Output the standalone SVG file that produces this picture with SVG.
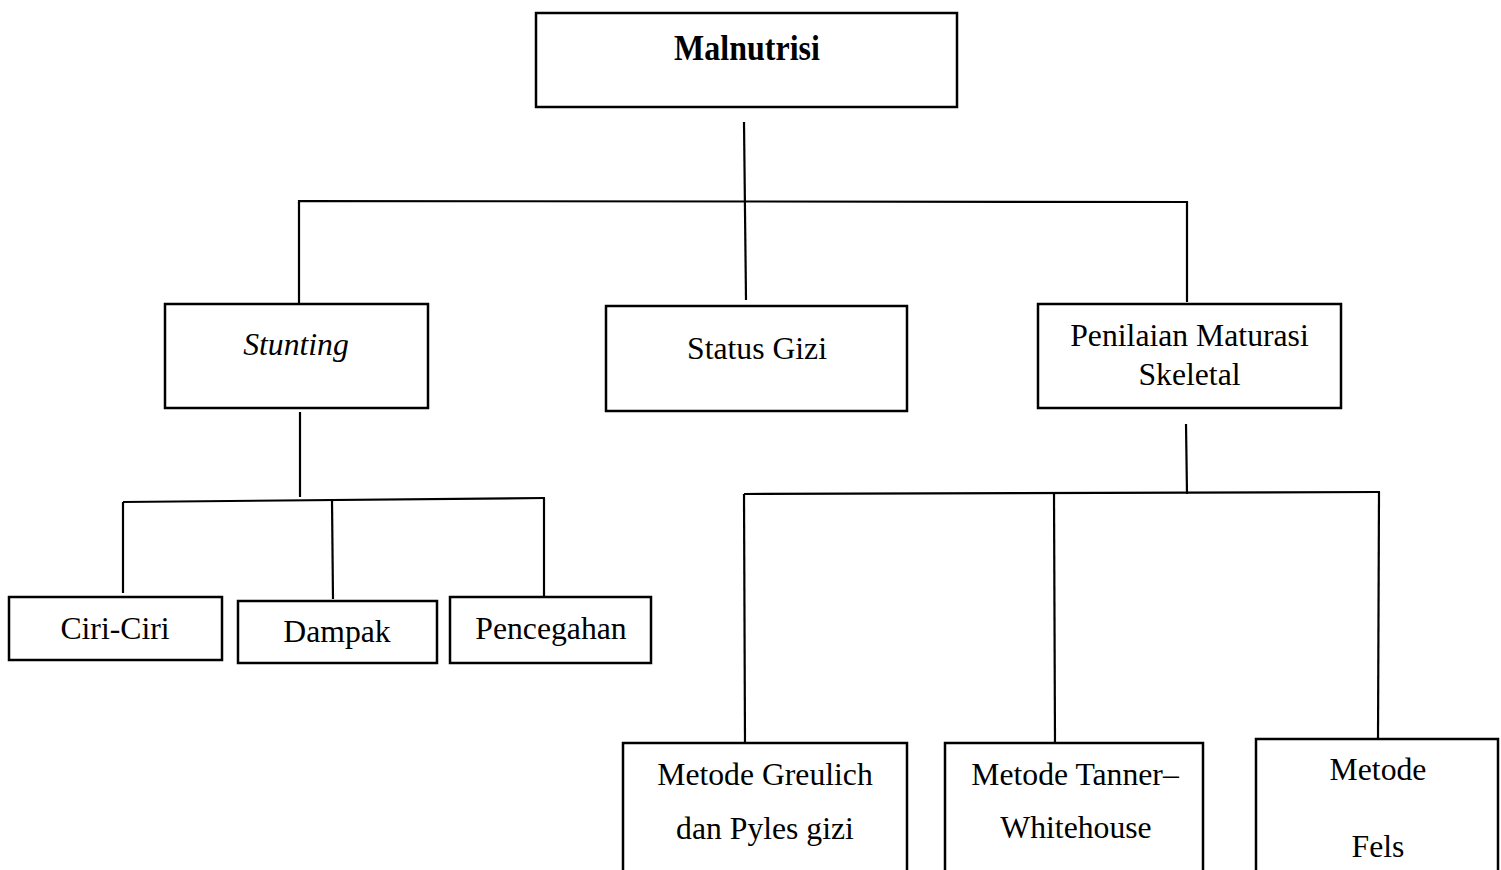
<svg xmlns="http://www.w3.org/2000/svg" width="1501" height="870" viewBox="0 0 1501 870">
<style>
.box{fill:#fff;stroke:#000;stroke-width:2.5}
.ln{fill:none;stroke:#000;stroke-width:2.2}
text{font-family:"Liberation Serif","Times New Roman",serif;font-size:31.7px;fill:#000;text-anchor:middle}
.b{font-weight:bold;font-size:32px}
.i{font-style:italic}
</style>
<rect width="1501" height="870" fill="#fff"/>
<g id="connectors">
<line class="ln" x1="744" y1="122" x2="746" y2="300"/>
<polyline class="ln" points="299,304 299,201 1187,202 1187,302"/>
<line class="ln" x1="300" y1="412" x2="300" y2="497"/>
<line class="ln" x1="123" y1="502" x2="545" y2="498"/>
<line class="ln" x1="123" y1="502" x2="123" y2="593"/>
<line class="ln" x1="332" y1="500" x2="333" y2="599"/>
<line class="ln" x1="544" y1="498" x2="544" y2="597"/>
<line class="ln" x1="1186" y1="424" x2="1187" y2="494"/>
<line class="ln" x1="744" y1="494" x2="1380" y2="492"/>
<line class="ln" x1="744" y1="494" x2="745" y2="743"/>
<line class="ln" x1="1054" y1="493" x2="1055" y2="743"/>
<line class="ln" x1="1379" y1="492" x2="1378" y2="739"/>
</g>
<g id="malnutrisi">
<rect class="box" x="536" y="13" width="421" height="94"/>
<text class="b" transform="translate(747,60) scale(1,1.12)">Malnutrisi</text>
</g>
<g id="stunting">
<rect class="box" x="165" y="304" width="263" height="104"/>
<text class="i" x="296" y="355">Stunting</text>
</g>
<g id="status-gizi">
<rect class="box" x="606" y="306" width="301" height="105"/>
<text x="757" y="359">Status Gizi</text>
</g>
<g id="penilaian">
<rect class="box" x="1038" y="304" width="303" height="104"/>
<text x="1189.5" y="346">Penilaian Maturasi</text>
<text x="1189.5" y="385">Skeletal</text>
</g>
<g id="ciri-ciri">
<rect class="box" x="9" y="597" width="213" height="63"/>
<text x="115" y="639">Ciri-Ciri</text>
</g>
<g id="dampak">
<rect class="box" x="238" y="601" width="199" height="62"/>
<text x="337" y="642">Dampak</text>
</g>
<g id="pencegahan">
<rect class="box" x="450" y="597" width="201" height="66"/>
<text x="551" y="639">Pencegahan</text>
</g>
<g id="greulich">
<rect class="box" x="623" y="743" width="284" height="140"/>
<text x="765" y="785">Metode Greulich</text>
<text x="765" y="839">dan Pyles gizi</text>
</g>
<g id="tanner">
<rect class="box" x="945" y="743" width="258" height="140"/>
<text x="1075" y="785">Metode Tanner–</text>
<text x="1076" y="838">Whitehouse</text>
</g>
<g id="fels">
<rect class="box" x="1256" y="739" width="242" height="144"/>
<text x="1378" y="780">Metode</text>
<text x="1378" y="857">Fels</text>
</g>
</svg>
